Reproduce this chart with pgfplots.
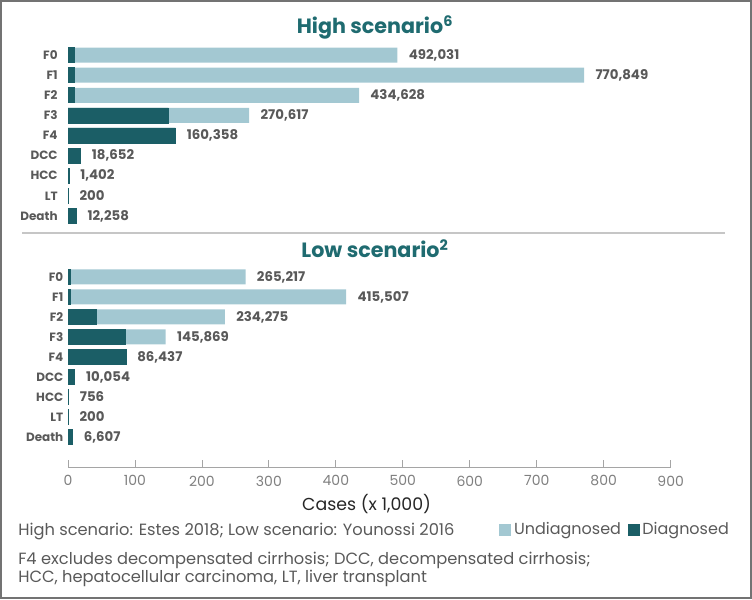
\documentclass[border=0pt]{standalone}
\usepackage{pgfplots}
\pgfplotsset{compat=1.18}
\usepackage{pgfplotstable}
\usepackage{fontspec}
\setmainfont{Poppins}
\definecolor{diag}{HTML}{1B5E66}
\definecolor{undiag}{HTML}{A3C8D2}
\definecolor{ttl}{HTML}{1F6B70}
\definecolor{lblgray}{HTML}{595959}
\definecolor{tickgray}{HTML}{7F7F7F}

% total = all cases (thousands), diag = diagnosed part (thousands)
\pgfplotstableread{
cat diag total label
8 9.5 492.031 492,031
7 9.5 770.849 770,849
6 9.5 434.628 434,628
5 150 270.617 270,617
4 160.358 160.358 160,358
3 18.652 18.652 18,652
2 1.402 1.402 1,402
1 0.2 0.2 200
0 12.258 12.258 12,258
}\high

\pgfplotstableread{
cat diag total label
8 4 265.217 265,217
7 4 415.507 415,507
6 42.5 234.275 234,275
5 85 145.869 145,869
4 86.437 86.437 86,437
3 10.054 10.054 10,054
2 0.756 0.756 756
1 0.2 0.2 200
0 6.607 6.607 6,607
}\low

\pgfplotsset{
  panel/.style={
    scale only axis,
    width=452pt,
    xbar,
    bar width=11.25pt,
    bar shift=0pt,
    xmin=0, xmax=900,
    enlargelimits=false,
    clip=false,
    axis lines*=left,
    y axis line style={draw=none},
    ytick style={draw=none},
    ytick={0,...,8},
    yticklabels={Death,LT,HCC,DCC,F4,F3,F2,F1,F0},
    yticklabel style={font=\fontsize{9}{11}\selectfont\bfseries, color=lblgray},
    /pgf/number format/assume math mode=true,
  },
  totbar/.style={fill=undiag, draw=none,
    nodes near coords, point meta=explicit symbolic,
    every node near coord/.append style={font=\fontsize{10}{12}\selectfont\bfseries, color=lblgray, anchor=west, xshift=5pt}},
  diagbar/.style={fill=diag, draw=diag, line width=0.5pt},
}

\begin{document}
\begin{tikzpicture}
\useasboundingbox (0,0) rectangle (564pt,449.25pt);
\draw[color=black!55, line width=1.3pt] (0.75pt,0.75pt) rectangle (563.25pt,448.5pt);

\node[font=\fontsize{15.5}{18}\selectfont\bfseries, color=ttl] at (281.25pt,428.5pt) {High scenario\textsuperscript{6}};
\node[font=\fontsize{15.5}{18}\selectfont\bfseries, color=ttl] at (281.25pt,262.75pt) {Low scenario\textsuperscript{2}};
\draw[color=gray!45, line width=0.8pt] (16.5pt,274.5pt) -- (543.75pt,274.5pt);

\begin{axis}[panel,
  at={(51pt,415.5pt)}, anchor=north west,
  height=135.75pt,
  ymin=-0.5, ymax=8.5,
  hide x axis,
]
\addplot[totbar] table[x=total, y=cat, meta=label] {\high};
\addplot[diagbar] table[x=diag, y=cat] {\high};
\end{axis}

\begin{axis}[panel,
  at={(51pt,249pt)}, anchor=north west,
  height=150pt,
  ymin=-1.5, ymax=8.5,
  x axis line style={draw=tickgray!70, line width=0.6pt},
  xtick={0,100,...,900},
  xtick style={draw=tickgray!70, line width=0.6pt},
  tick align=inside,
  major tick length=5pt,
  xticklabel style={font=\fontsize{10.5}{12}\selectfont, color=tickgray, yshift=-3pt},
  legend style={at={(1.108,-0.313)}, anchor=east, draw=none, fill=none,
    font=\fontsize{12}{14}\selectfont, text=lblgray, legend columns=2,
    /tikz/every even column/.append style={column sep=3pt}},
  legend image code/.code={\fill[#1] (0pt,-4.5pt) rectangle (9pt,4.5pt);},
]
\addplot[totbar, forget plot] table[x=total, y=cat, meta=label] {\low};
\addplot[diagbar, forget plot] table[x=diag, y=cat] {\low};
\addlegendimage{fill=undiag, draw=none}
\addlegendentry{Undiagnosed}
\addlegendimage{fill=diag, draw=none}
\addlegendentry{Diagnosed}
\end{axis}

\node[font=\fontsize{13}{15}\selectfont, color=black!85] at (275pt,71.5pt) {Cases (x 1,000)};
\begin{scope}[every node/.style={anchor=west, font=\fontsize{12.2}{14}\selectfont, color=lblgray, inner sep=0pt}]
\node at (13.5pt,50.5pt) {High scenario: Estes 2018; Low scenario: Younossi 2016};
\node at (13.5pt,28.75pt) {F4 excludes decompensated cirrhosis; DCC, decompensated cirrhosis;};
\node at (13.5pt,15.5pt) {HCC, hepatocellular carcinoma, LT, liver transplant};
\end{scope}
\end{tikzpicture}
\end{document}
